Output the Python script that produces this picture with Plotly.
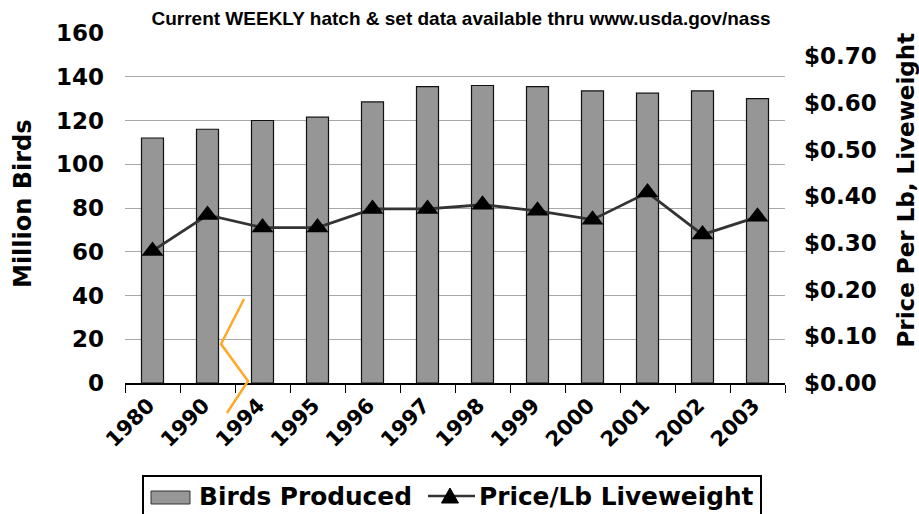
import plotly.graph_objects as go

years = ["1980", "1990", "1994", "1995", "1996", "1997", "1998", "1999", "2000", "2001", "2002", "2003"]
birds_produced = [112, 116, 120, 121.5, 128.5, 135.5, 136, 135.5, 133.5, 132.5, 133.5, 130]
price_per_lb = [0.283, 0.36, 0.333, 0.333, 0.373, 0.373, 0.382, 0.369, 0.35, 0.408, 0.318, 0.356]
left_ticks = [0, 20, 40, 60, 80, 100, 120, 140, 160]
right_ticks = [0, 0.1, 0.2, 0.3, 0.4, 0.5, 0.6, 0.7]

FONT = "DejaVu Sans, sans-serif"
TFONT = "Liberation Sans, Arial, sans-serif"

W, H = 919, 514
L, R, T, B = 125, 785, 33, 383


def px(x):
    return (x - L) / (R - L)


def py(y):
    return (B - y) / (B - T)


fig = go.Figure()
fig.add_trace(go.Bar(
    x=years, y=birds_produced, name="Birds Produced",
    marker=dict(color="#969696", line=dict(color="#111111", width=1.2)),
    width=0.4, showlegend=False,
))
fig.add_trace(go.Scatter(
    x=years, y=price_per_lb, name="Price/Lb Liveweight", yaxis="y2",
    mode="lines+markers",
    line=dict(color="#333333", width=2.8),
    marker=dict(symbol="triangle-up", size=19, color="black"),
    showlegend=False,
))

# orange axis-break zigzag
pts = [(244, 299), (221, 344), (248, 381), (227, 413)]
path = "M " + " L ".join(f"{px(x):.4f},{py(y):.4f}" for x, y in pts)
fig.add_shape(type="path", path=path, xref="paper", yref="paper",
              line=dict(color="#FFA726", width=2.5), layer="above")

# legend (drawn)
fig.add_shape(type="rect", xref="paper", yref="paper",
              x0=px(143), x1=px(761), y0=py(476), y1=py(530),
              line=dict(color="black", width=2), fillcolor="white", layer="above")
fig.add_shape(type="rect", xref="paper", yref="paper",
              x0=px(151), x1=px(190), y0=py(491), y1=py(504),
              line=dict(color="#333333", width=1), fillcolor="#969696", layer="above")
fig.add_shape(type="line", xref="paper", yref="paper",
              x0=px(428), x1=px(475), y0=py(496), y1=py(496),
              line=dict(color="#333333", width=2.5), layer="above")
tri = [(441.5, 503), (458.5, 503), (450, 488)]
fig.add_shape(type="path", xref="paper", yref="paper",
              path="M " + " L ".join(f"{px(x):.4f},{py(y):.4f}" for x, y in tri) + " Z",
              line=dict(color="black", width=1), fillcolor="black", layer="above")
fig.add_annotation(text="<b>Birds Produced</b>", xref="paper", yref="paper",
                   x=px(197), y=py(496), xanchor="left", yanchor="middle", showarrow=False,
                   font=dict(size=24.8, family=FONT, color="black"))
fig.add_annotation(text="<b>Price/Lb Liveweight</b>", xref="paper", yref="paper",
                   x=px(477), y=py(496), xanchor="left", yanchor="middle", showarrow=False,
                   font=dict(size=24.8, family=FONT, color="black"))

# axis titles
fig.add_annotation(text="<b>Million Birds</b>", xref="paper", yref="paper",
                   x=px(23), y=py(204), xanchor="center", yanchor="middle", textangle=-90,
                   showarrow=False, font=dict(size=24, family=FONT, color="black"))
fig.add_annotation(text="<b>Price Per Lb, Liveweight</b>", xref="paper", yref="paper",
                   x=px(905), y=py(350), xanchor="center", yanchor="bottom", textangle=-90,
                   showarrow=False, font=dict(size=23, family=FONT, color="black"))

fig.update_layout(
    width=W, height=H,
    margin=dict(l=L, r=W - R, t=T, b=H - B, autoexpand=False),
    paper_bgcolor="white", plot_bgcolor="white",
    font=dict(family=FONT, color="black"),
    title=dict(text="<b>Current WEEKLY hatch & set data available thru www.usda.gov/nass</b>",
               x=461 / W, xanchor="center", y=1 - 18 / H, yanchor="middle",
               font=dict(size=19, family=TFONT, color="black")),
    xaxis=dict(
        type="category", tickangle=-45, automargin=False,
        range=[-0.5, len(years) - 0.5],
        tickfont=dict(size=21, family=FONT, color="black", weight="bold"),
        showline=True, linecolor="black", linewidth=1.5,
        ticks="outside", tickson="boundaries", ticklen=8, tickcolor="black",
        ticklabelshift=-4,
        showgrid=False,
    ),
    yaxis=dict(
        range=[0, 160], tickvals=left_ticks, automargin=False,
        tickfont=dict(size=23, family=FONT, color="black", weight="bold"),
        showgrid=True, gridcolor="#a8a8a8", gridwidth=1,
        zeroline=False, showline=False,
        ticks="", ticklabelstandoff=20,
    ),
    yaxis2=dict(
        overlaying="y", side="right", range=[0, 0.75], tickvals=right_ticks, automargin=False,
        tickformat="$.2f",
        tickfont=dict(size=23, family=FONT, color="black", weight="bold"),
        showgrid=False, zeroline=False, showline=False,
        ticks="", ticklabelstandoff=18,
    ),
    showlegend=False,
    bargap=0.6,
)

fig.write_html("out.html", post_script="document.body.style.margin='0';",
               config={"displayModeBar": False})
